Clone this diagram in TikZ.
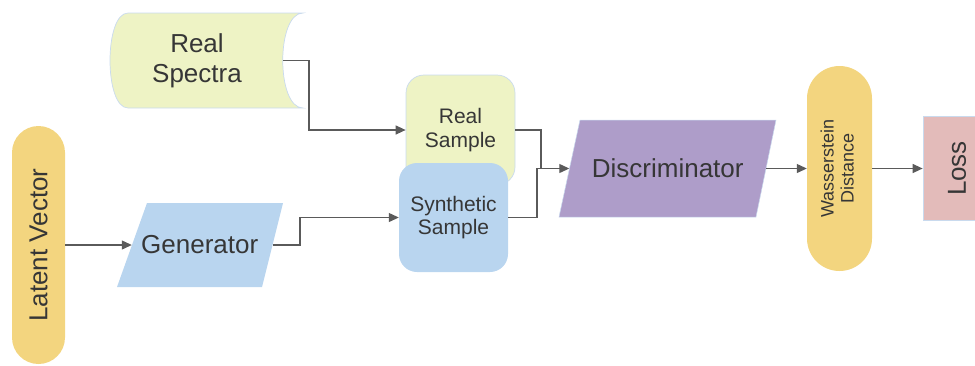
\documentclass[tikz,border=0pt]{standalone}
\usepackage{fontspec}
\setmainfont{Liberation Sans}
\usetikzlibrary{arrows.meta,calc}
\definecolor{pillY}{HTML}{F3D57F}
\definecolor{lgreen}{HTML}{EEF3C5}
\definecolor{lblue}{HTML}{B9D5EF}
\definecolor{lpurple}{HTML}{AE9DC9}
\definecolor{lpink}{HTML}{E3BBBA}
\definecolor{edgeB}{HTML}{C9DAEE}
\definecolor{txt}{HTML}{363636}
\definecolor{arrc}{HTML}{5A5A5A}
\tikzset{
  big/.style={font=\fontsize{26}{30}\selectfont, text=txt, align=center},
  mid/.style={font=\fontsize{21}{23.5}\selectfont, text=txt, align=center},
  pill/.style={rectangle, fill=pillY, inner sep=0pt},
  holder/.style={rectangle, inner sep=0pt},
  arr/.style={draw=arrc, line width=1.2pt, -{Triangle[length=10pt,width=9pt]}},
  ln/.style={draw=arrc, line width=1.2pt},
}
\begin{document}
\begin{tikzpicture}[x=1pt,y=-1pt]
\useasboundingbox (0,0) rectangle (975,365);

% Real Spectra (stored data shape)
\path[fill=lgreen, draw=edgeB, line width=0.7pt]
  (128,13) -- (303,13) .. controls (276,13) and (276,108) .. (303,108)
  -- (128,108) .. controls (104,108) and (104,13) .. (128,13) -- cycle;
\node[big, holder, minimum width=172pt, minimum height=95pt] (rs) at (197,60.5) {Real\\Spectra};

% Latent vector
\node[pill, rounded corners=26.5pt, minimum width=53pt, minimum height=238pt] (lat) at (38.5,245)
  {\rotatebox{90}{\fontsize{26}{30}\selectfont\color{txt}Latent Vector}};

% Generator (parallelogram)
\path[fill=lblue] (117,287) -- (147,203) -- (283,203) -- (262,287) -- cycle;
\node[big, holder, minimum width=140.5pt, minimum height=84pt] (gen) at (202.25,245) {\hspace*{-5pt}Generator};

% Real sample and synthetic sample
\node[mid, rectangle, rounded corners=18pt, fill=lgreen, draw=edgeB, line width=0.7pt,
  minimum width=109pt, minimum height=110pt] (rsamp) at (460.5,130) {Real\\Sample};
\node[mid, rectangle, rounded corners=18pt, fill=lblue,
  minimum width=109pt, minimum height=109pt] (synth) at (453.5,217.5) {Synthetic\\Sample};

% Discriminator (parallelogram)
\path[fill=lpurple, draw=edgeB, line width=0.5pt] (559,217) -- (580,120) -- (776,120) -- (756,217) -- cycle;
\node[big, holder, minimum width=196.5pt, minimum height=97pt] (disc) at (667.75,168.5) {Discriminator};

% Wasserstein distance
\node[pill, rounded corners=32.5pt, minimum width=65pt, minimum height=205pt] (wd) at (839.5,168.5)
  {\rotatebox{90}{\fontsize{18}{20}\selectfont\color{txt}\begin{tabular}{@{}c@{}}Wasserstein\\Distance\end{tabular}}};

% Loss
\node[rectangle, fill=lpink, draw=edgeB, line width=0.7pt, minimum width=68pt, minimum height=104pt, inner sep=0pt] (loss) at (957,168.5)
  {\rotatebox{90}{\fontsize{26}{30}\selectfont\color{txt}Loss}};

% connectors
\coordinate (b1) at (309,95);
\coordinate (b2) at (300,230);
\coordinate (j1) at (541,168.5);
\coordinate (j2) at (537,168.5);
\draw[arr] (lat.east) -- (gen.west);
\draw[arr] (rs.east) -| (b1) |- (rsamp.west);
\draw[arr] (gen.east) -| (b2) |- (synth.west);
\draw[ln] (rsamp.east) -| (j1);
\draw[arr] (synth.east) -| (j2) -- (disc.west);
\draw[arr] (disc.east) -- (wd.west);
\draw[arr] (wd.east) -- (loss.west);
\end{tikzpicture}
\end{document}
